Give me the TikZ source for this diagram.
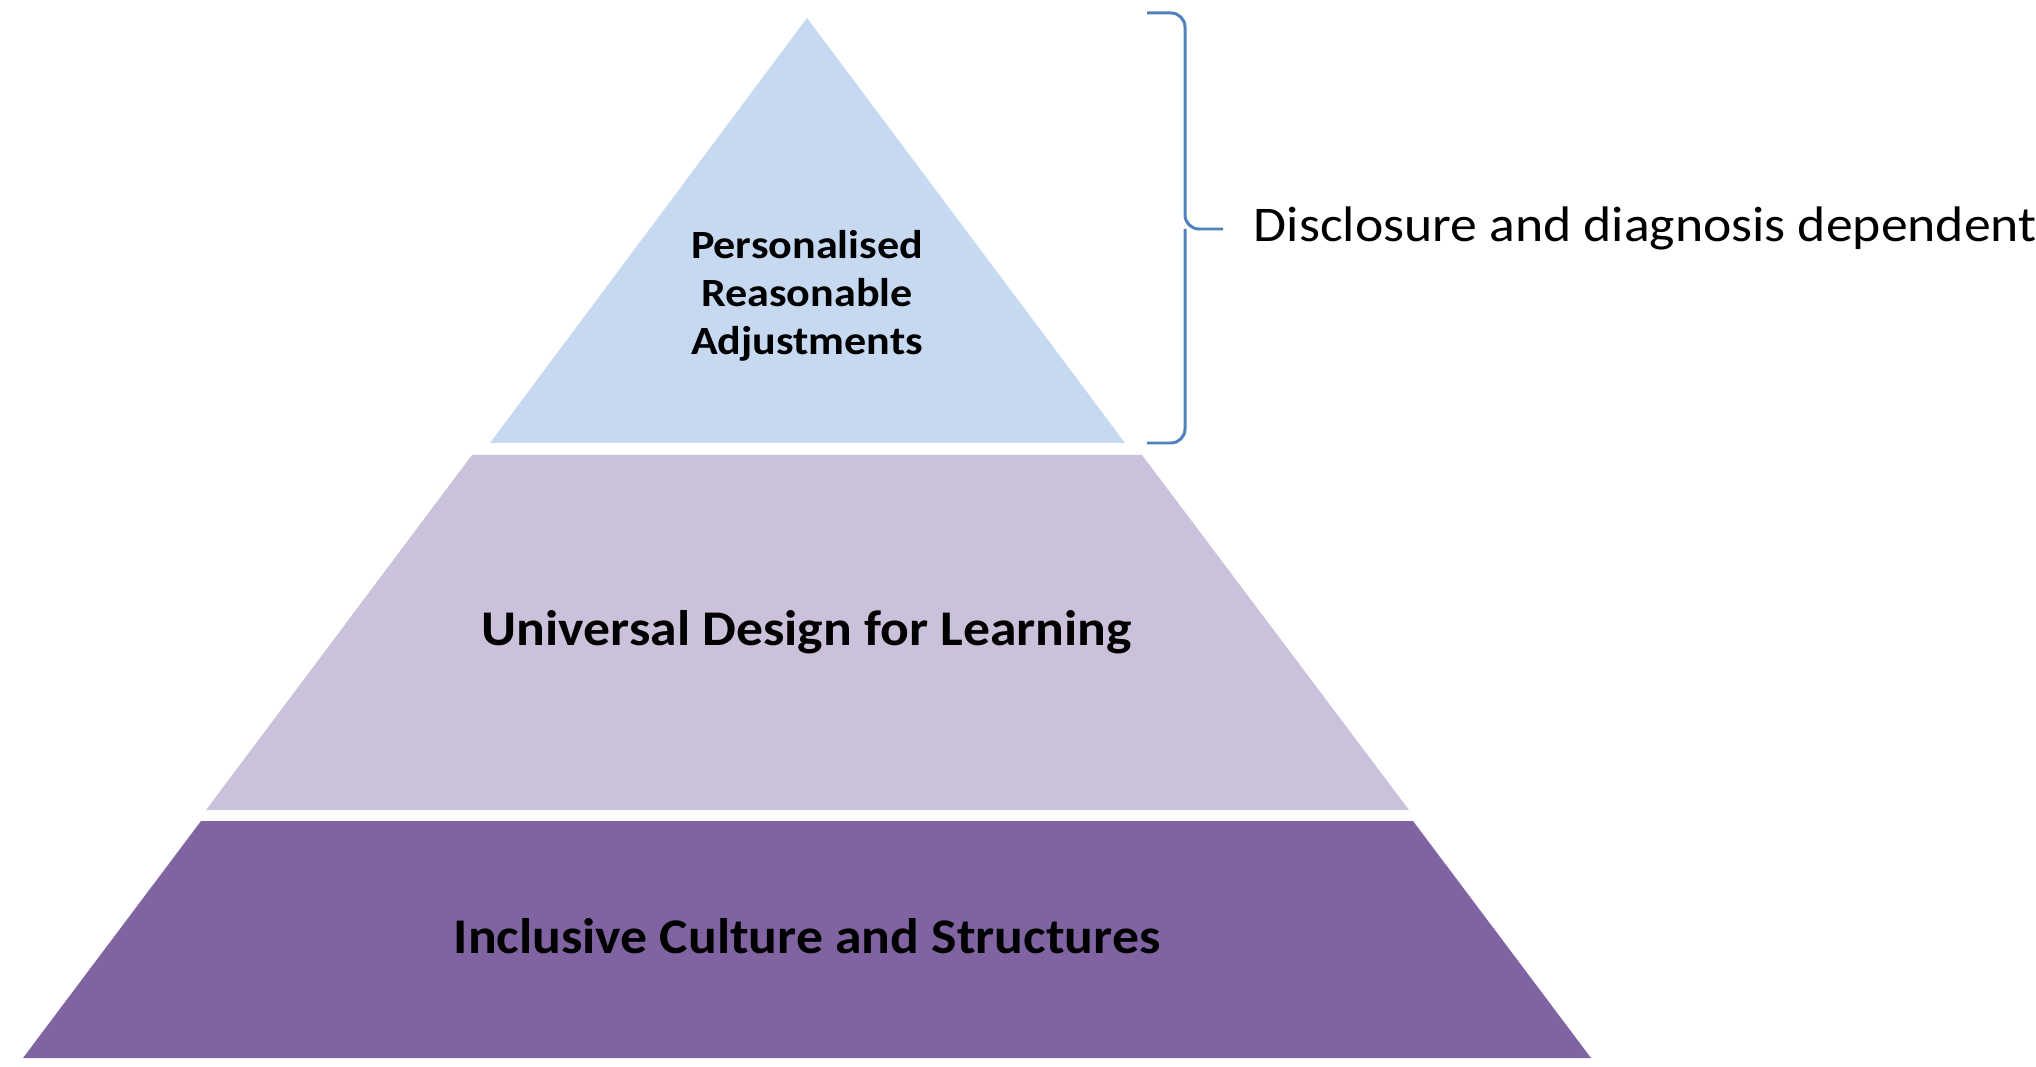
\documentclass[tikz,border=0pt]{standalone}
\usepackage{fontspec}
\setmainfont{Carlito}[FakeStretch=1.075]
\newfontfamily\tipfont{Carlito}[FakeStretch=1.1]
\usetikzlibrary{positioning}

\definecolor{tiertop}{HTML}{C6D9F1}
\definecolor{tiermid}{HTML}{CCC1DA}
\definecolor{tierbot}{HTML}{8064A2}
\definecolor{bracecol}{HTML}{4F81BD}

\tikzstyle{tier}=[draw=none]
\tikzstyle{tierlabel}=[inner sep=0pt,font=\bfseries\fontsize{14.2}{17}\selectfont]
\tikzstyle{bracket}=[draw=bracecol,line width=0.85pt,rounded corners=4pt]

\begin{document}
\begin{tikzpicture}[x=0.01cm,y=-0.01cm]
  \useasboundingbox (0,0) rectangle (2036,1067);
  \def \ya {443}
  \def \yb {455}
  \def \yc {810}
  \def \yd {821}
  \def \ye {1058}
  % pyramid tiers, top to bottom
  \fill[tier,fill=tiertop] (807,18) coordinate(apex) -- (1125,\ya) coordinate(t1br) -- (490,\ya) coordinate(t1bl) -- cycle;
  \fill[tier,fill=tiermid] (472,\yb) coordinate(t2tl) -- (1142,\yb) coordinate(t2tr) -- (1409,\yc) coordinate(t2br) -- (206,\yc) coordinate(t2bl) -- cycle;
  \fill[tier,fill=tierbot] (201,\yd) coordinate(t3tl) -- (1413,\yd) coordinate(t3tr) -- (1591,\ye) coordinate(t3br) -- (23,\ye) coordinate(t3bl) -- cycle;

  % tier labels
  \node[tierlabel,align=center,font=\tipfont\bfseries\fontsize{11.4}{13.7}\selectfont] (pra) at (807,296) {Personalised\\Reasonable\\Adjustments};
  \node[tierlabel,anchor=base] (udl) at (807,645) {Universal Design for Learning};
  \node[tierlabel,anchor=base] (icS) at (807,953) {Inclusive Culture and Structures};

  % brace beside the top tier
  \coordinate (brtop) at (1147,13);
  \coordinate (brbot) at (1147,443);
  \coordinate (brmid) at (1185,229);
  \coordinate (brtip) at (1223,229);
  \draw[bracket] (brtop) -| (brmid) -- (brtip);
  \draw[bracket] (brmid) |- (brbot);
  \node[anchor=base west,inner sep=0pt,font=\fontsize{14.2}{17}\selectfont] (disc) at (1253,242) {Disclosure and diagnosis dependent};
\end{tikzpicture}
\end{document}
